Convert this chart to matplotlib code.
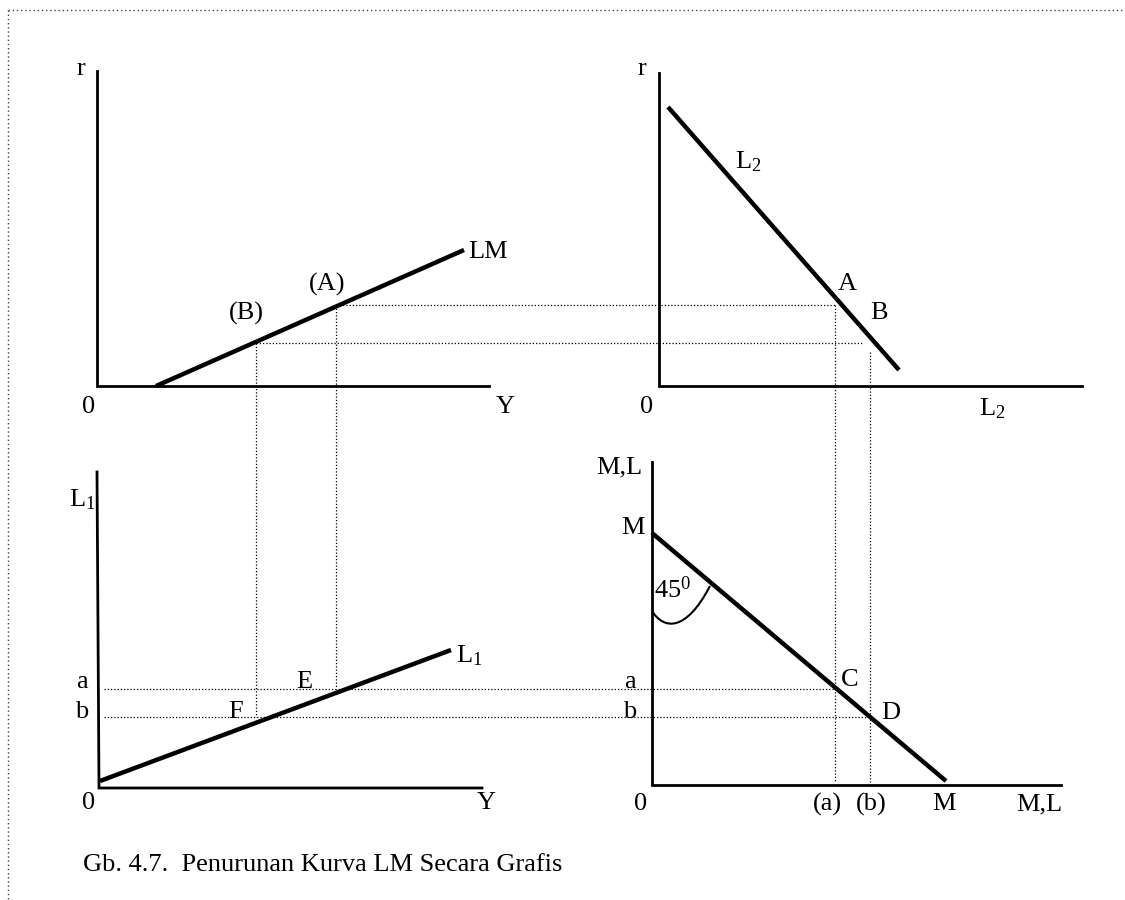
import matplotlib
matplotlib.use("Agg")
import matplotlib.pyplot as plt
from matplotlib.path import Path
from matplotlib.patches import PathPatch

plt.rcParams['font.family'] = ['Liberation Serif', 'DejaVu Serif']
plt.rcParams['mathtext.fontset'] = 'custom'
plt.rcParams['mathtext.rm'] = 'Liberation Serif'
plt.rcParams['mathtext.it'] = 'Liberation Serif'

# ---- diagram geometry (figure pixel space, y downward) ----
# axes of the four quadrants: (x0, y_top, y_origin, x_end)
axes_tl = [(97, 71), (97, 386), (489, 386)]
axes_tr = [(659, 73), (659, 386), (1082, 386)]
axes_bl = [(97, 472), (99, 788), (482, 788)]
axes_br = [(652, 462), (652, 785), (1061, 785)]

# curves
LM_x = [156, 464]
LM_y = [386, 250]
L2_x = [668, 899]
L2_y = [107, 370]
L1_x = [100, 451]
L1_y = [781, 650]
M_x = [652, 946]
M_y = [533, 781]

# dotted guide lines: (x list, y list)
guides = [
    ([336, 835], [305, 305]),
    ([256, 862], [343, 343]),
    ([336, 336], [305, 689]),
    ([256, 256], [343, 717]),
    ([835, 835], [305, 782]),
    ([870, 870], [352, 782]),
    ([104, 835], [689, 689]),
    ([104, 870], [717, 717]),
]

# 45 degree arc (cubic bezier control points)
arc_pts = [(652, 611), (664, 630), (686, 632), (710, 586)]

FS = 19
labels = [
    # text, x, y, ha
    ("r", 81, 69, "center"),
    ("LM", 468, 252, "left"),
    ("(A)", 327, 284, "center"),
    ("(B)", 246, 313, "center"),
    ("0", 89, 407, "center"),
    ("Y", 505, 407, "center"),
    ("r", 642, 69, "center"),
    ("L$_2$", 748, 162, "center"),
    ("A", 847, 284, "center"),
    ("B", 879, 313, "center"),
    ("0", 647, 407, "center"),
    ("L$_2$", 992, 409, "center"),
    ("L$_1$", 82, 500, "center"),
    ("L$_1$", 456, 656, "left"),
    ("a", 82, 682, "center"),
    ("b", 82, 712, "center"),
    ("E", 304, 682, "center"),
    ("F", 236, 712, "center"),
    ("0", 89, 803, "center"),
    ("Y", 486, 803, "center"),
    ("M,L", 619, 467, "center"),
    ("M", 633, 528, "center"),
    ("45$^0$", 673, 590, "center"),
    ("a", 630, 682, "center"),
    ("b", 630, 712, "center"),
    ("C", 850, 680, "center"),
    ("D", 891, 713, "center"),
    ("0", 641, 804, "center"),
    ("(a)", 827, 804, "center"),
    ("(b)", 871, 804, "center"),
    ("M", 944, 804, "center"),
    ("M,L", 1039, 804, "center"),
]
caption = "Gb. 4.7.  Penurunan Kurva LM Secara Grafis"

# ---- drawing ----
fig = plt.figure(figsize=(11.25, 9), dpi=100)
ax = fig.add_axes([0, 0, 1, 1])
ax.set_xlim(0, 1125)
ax.set_ylim(900, 0)
ax.axis("off")

# dotted frame
ax.plot([8, 1125], [10, 10], color="#444444", lw=1.0, linestyle=(0, (1, 2)))
ax.plot([8, 8], [10, 900], color="#444444", lw=1.0, linestyle=(0, (1, 2)))

for ax_pts in (axes_tl, axes_tr, axes_bl, axes_br):
    xs = [p[0] for p in ax_pts]
    ys = [p[1] for p in ax_pts]
    ax.plot(xs, ys, color="black", lw=2.0, solid_joinstyle="miter")

for xs, ys in ((LM_x, LM_y), (L2_x, L2_y), (L1_x, L1_y), (M_x, M_y)):
    ax.plot(xs, ys, color="black", lw=3.2, solid_capstyle="butt")

for xs, ys in guides:
    ax.plot(xs, ys, color="black", lw=0.9, linestyle=(0, (1, 1.6)))

path = Path(arc_pts, [Path.MOVETO, Path.CURVE4, Path.CURVE4, Path.CURVE4])
ax.add_patch(PathPatch(path, facecolor="none", edgecolor="black", lw=1.5))

for t, x, y, ha in labels:
    ax.text(x, y, t, ha=ha, va="center", fontsize=FS, color="black")

ax.text(83, 865, caption, ha="left", va="center", fontsize=FS, color="black")

fig.savefig("out.png", dpi=100)
